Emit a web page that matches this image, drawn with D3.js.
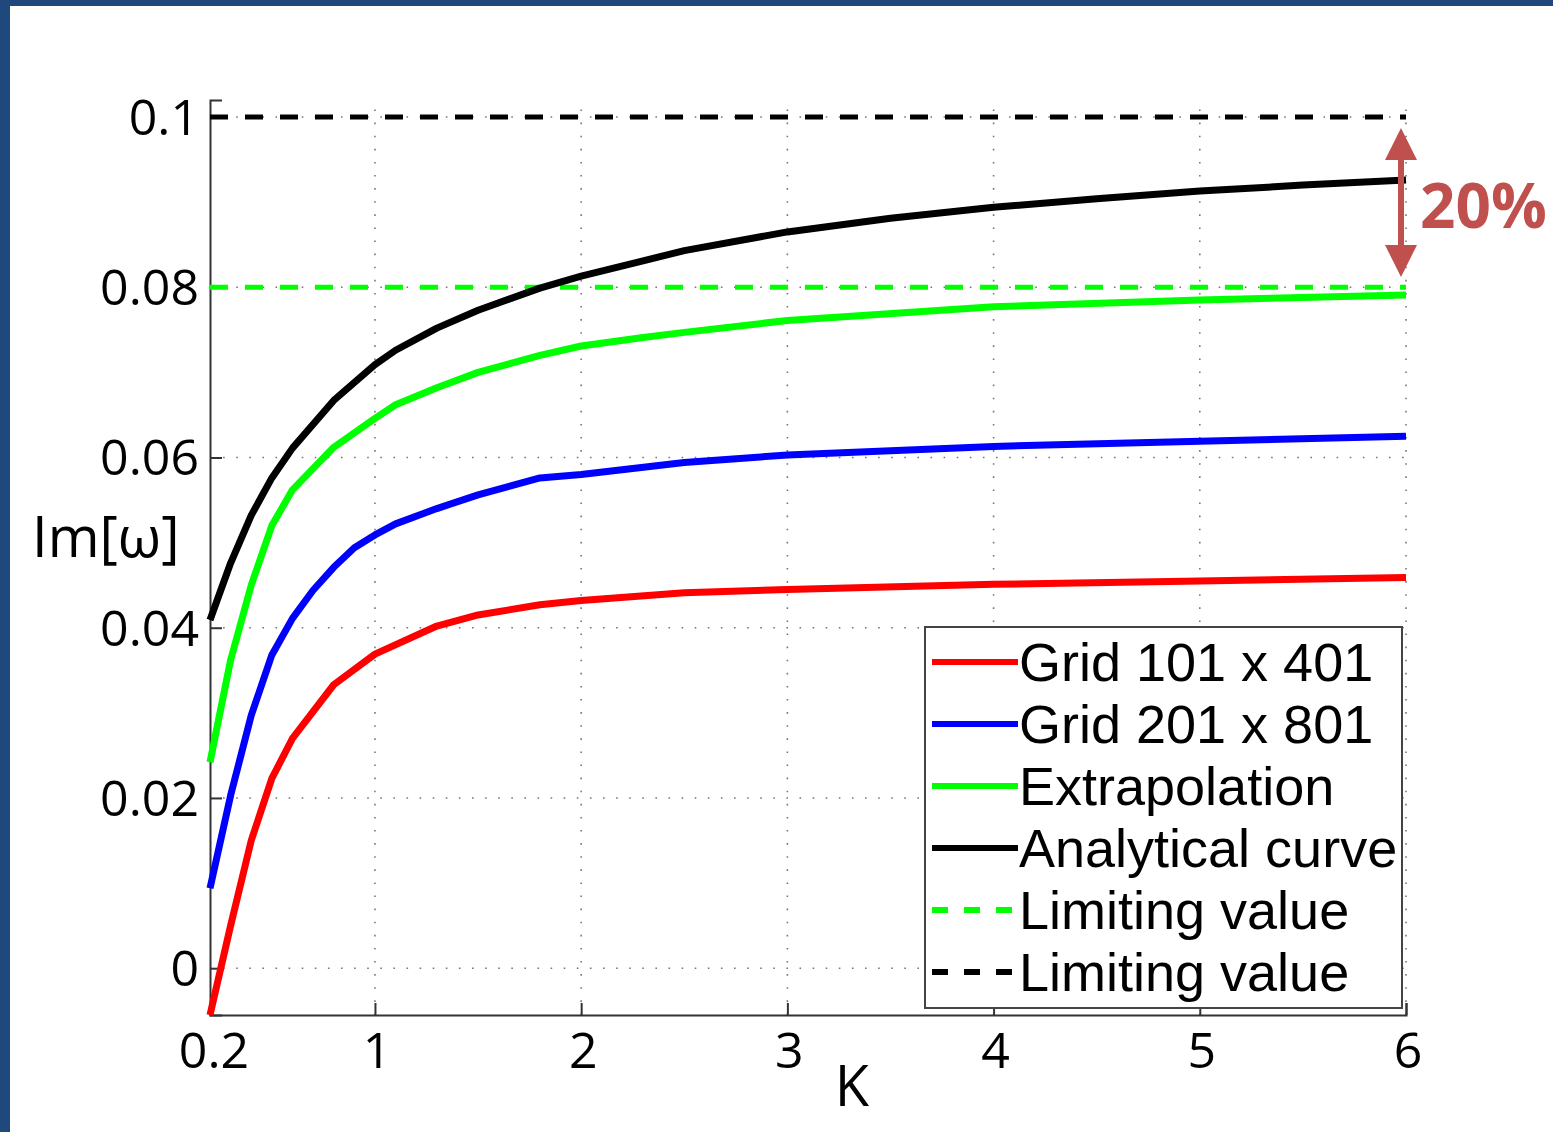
<!DOCTYPE html>
<html>
<head>
<meta charset="utf-8">
<script src="https://cdn.jsdelivr.net/npm/d3@7"></script>
<style>
  body { margin: 0; background: #fff; }
  svg { display: block; }
  text { font-family: "Open Sans", "Noto Sans", sans-serif; }
</style>
</head>
<body>
<svg id="chart"></svg>
<script>
var width = 1553,
    height = 1132;

// K values and curves
var kRed = [0.2, 0.3, 0.4, 0.5, 0.6, 0.8, 1.0, 1.3, 1.5, 1.8, 2.0, 2.5, 3.0, 4.0, 5.0, 6.0];
var grid101 = [-0.0055, 0.005, 0.015, 0.0223, 0.027, 0.0333, 0.0369, 0.0402, 0.0415, 0.0427, 0.0432, 0.0441, 0.0445, 0.0451, 0.0455, 0.0459];

var kFine = [0.2, 0.3, 0.4, 0.5, 0.6, 0.7, 0.8, 0.9, 1.0, 1.1, 1.3, 1.5, 1.8, 2.0, 2.5, 3.0, 4.0, 5.0, 6.0];
var grid201 = [0.0094, 0.0203, 0.0297, 0.0368, 0.0411, 0.0444, 0.0471, 0.0494, 0.0509, 0.0522, 0.054, 0.0556, 0.0576, 0.058, 0.0594, 0.0603, 0.0613, 0.0619, 0.0625];

var kGreen = [0.2, 0.3, 0.4, 0.5, 0.6, 0.8, 1.0, 1.1, 1.3, 1.5, 1.8, 2.0, 2.3, 2.5, 3.0, 4.0, 5.0, 6.0];
var extrap = [0.0242, 0.0362, 0.045, 0.052, 0.0562, 0.0612, 0.0646, 0.0662, 0.0682, 0.070, 0.072, 0.0731, 0.0741, 0.0747, 0.0761, 0.0777, 0.0785, 0.0791];

var kBlack = [0.2, 0.3, 0.4, 0.5, 0.6, 0.8, 1.0, 1.1, 1.3, 1.5, 1.8, 2.0, 2.3, 2.5, 3.0, 3.5, 4.0, 4.5, 5.0, 5.5, 6.0];
var analytical = [0.0409, 0.0476, 0.0532, 0.0576, 0.0611, 0.0667, 0.0709, 0.0726, 0.0752, 0.0773, 0.0799, 0.0813, 0.0831, 0.0843, 0.0865, 0.0881, 0.0894, 0.0904, 0.0913, 0.092, 0.0926];

var limitGreen = 0.08,
    limitBlack = 0.1;

var xTicks = [0.2, 1, 2, 3, 4, 5, 6];
var xTickLabels = ['0.2', '1', '2', '3', '4', '5', '6'];
var yTicks = [0, 0.02, 0.04, 0.06, 0.08, 0.1];
var yTickLabels = ['0', '0.02', '0.04', '0.06', '0.08', '0.1'];

var legendNames = ['Grid 101 x 401', 'Grid 201 x 801', 'Extrapolation', 'Analytical curve', 'Limiting value', 'Limiting value'];
var legendColors = ['#ff0000', '#0000ff', '#00ff00', '#000000', '#00ff00', '#000000'];
var legendDashed = [false, false, false, false, true, true];

var svg = d3.select('#chart')
    .attr('width', width)
    .attr('height', height);

// blue frame of the slide
svg.append('rect').attr('x', 0).attr('y', 0).attr('width', width).attr('height', 6).attr('fill', '#1f497d');
svg.append('rect').attr('x', 0).attr('y', 0).attr('width', 10).attr('height', height).attr('fill', '#1f497d');

var x = d3.scaleLinear().domain([0.2, 6]).range([210, 1406]);
var y = d3.scaleLinear().domain([-0.0055, 0.102]).range([1015, 100]);

// dotted grid
svg.append('g').selectAll('line.gx')
  .data([1, 2, 3, 4, 5, 6]).enter().append('line')
  .attr('x1', function(d) { return x(d); })
  .attr('x2', function(d) { return x(d); })
  .attr('y1', y.range()[0])
  .attr('y2', y.range()[1])
  .attr('stroke', '#777')
  .attr('stroke-width', 1.6)
  .attr('stroke-dasharray', '1.6,11.5');

svg.append('g').selectAll('line.gy')
  .data(yTicks).enter().append('line')
  .attr('x1', x.range()[0])
  .attr('x2', x.range()[1])
  .attr('y1', function(d) { return y(d); })
  .attr('y2', function(d) { return y(d); })
  .attr('stroke', '#777')
  .attr('stroke-width', 1.6)
  .attr('stroke-dasharray', '1.6,11.5');

// axes, ticks inward
var xAxis = d3.axisBottom(x).tickValues(xTicks).tickSize(-12).tickFormat('');
var yAxis = d3.axisLeft(y).tickValues(yTicks).tickSize(-12).tickFormat('');

svg.append('g')
  .attr('transform', 'translate(0,' + y.range()[0] + ')')
  .call(xAxis)
  .call(function(g) {
    g.select('.domain').attr('stroke', '#333').attr('stroke-width', 2);
    g.selectAll('.tick line').attr('stroke', '#333').attr('stroke-width', 2);
  });

svg.append('g')
  .attr('transform', 'translate(' + x.range()[0] + ',0)')
  .call(yAxis)
  .call(function(g) {
    g.select('.domain').attr('stroke', '#333').attr('stroke-width', 2);
    g.selectAll('.tick line').attr('stroke', '#333').attr('stroke-width', 2);
  });

// tick labels
svg.append('g').selectAll('text')
  .data(xTicks).enter().append('text')
  .text(function(d, i) { return xTickLabels[i]; })
  .attr('x', function(d) { return x(d) + (d === 0.2 ? 4 : 2); })
  .attr('y', 1068)
  .attr('font-size', 50)
  .attr('fill', '#000')
  .style('text-anchor', 'middle');

svg.append('g').selectAll('text')
  .data(yTicks).enter().append('text')
  .text(function(d, i) { return yTickLabels[i]; })
  .attr('x', 199)
  .attr('y', function(d) { return y(d) + 18; })
  .attr('font-size', 50)
  .attr('fill', '#000')
  .style('text-anchor', 'end');

// axis titles
svg.append('text')
  .text('Im[ω]')
  .attr('x', 32)
  .attr('y', 557)
  .attr('font-size', 56)
  .attr('fill', '#000');

svg.append('text')
  .text('K')
  .attr('x', 852)
  .attr('y', 1106)
  .attr('font-size', 56)
  .attr('fill', '#000')
  .style('text-anchor', 'middle');

// limiting values
var plotArea = svg.append('g');

plotArea.append('line')
  .attr('x1', x(0.2)).attr('x2', x(6))
  .attr('y1', y(limitGreen)).attr('y2', y(limitGreen))
  .attr('stroke', '#00ff00').attr('stroke-width', 5)
  .attr('stroke-dasharray', '18,17');

plotArea.append('line')
  .attr('x1', x(0.2)).attr('x2', x(6))
  .attr('y1', y(limitBlack)).attr('y2', y(limitBlack))
  .attr('stroke', '#000').attr('stroke-width', 5)
  .attr('stroke-dasharray', '18,17');

// curves
var line = d3.line()
  .x(function(d) { return x(d[0]); })
  .y(function(d) { return y(d[1]); });

var curves = [
  { k: kRed, v: grid101, color: '#ff0000' },
  { k: kFine, v: grid201, color: '#0000ff' },
  { k: kGreen, v: extrap, color: '#00ff00' },
  { k: kBlack, v: analytical, color: '#000000' }
];

curves.forEach(function(c) {
  plotArea.append('path')
    .datum(d3.zip(c.k, c.v))
    .attr('d', line)
    .attr('fill', 'none')
    .attr('stroke', c.color)
    .attr('stroke-width', 7)
    .attr('stroke-linejoin', 'round');
});

// legend
var legend = svg.append('g');
legend.append('rect')
  .attr('x', 925).attr('y', 627)
  .attr('width', 477).attr('height', 381)
  .attr('fill', '#fff')
  .attr('stroke', '#444')
  .attr('stroke-width', 2);

legendNames.forEach(function(name, i) {
  var cy = 662 + i * 62;
  legend.append('line')
    .attr('x1', 932).attr('x2', 1018)
    .attr('y1', cy).attr('y2', cy)
    .attr('stroke', legendColors[i])
    .attr('stroke-width', 6)
    .attr('stroke-dasharray', legendDashed[i] ? '16,16' : null);
  legend.append('text')
    .text(name)
    .attr('x', 1019)
    .attr('y', cy + 19)
    .attr('font-size', 54)
    .style('font-family', '"Liberation Sans", Arial, sans-serif')
    .attr('fill', '#000');
});

// 20% annotation
var arrowX = x(6) - 5;
var ann = svg.append('g');
ann.append('line')
  .attr('x1', arrowX).attr('x2', arrowX)
  .attr('y1', 150).attr('y2', 255)
  .attr('stroke', '#c0504d')
  .attr('stroke-width', 6);
ann.append('path')
  .attr('d', 'M' + arrowX + ',128 L' + (arrowX - 16) + ',160 L' + (arrowX + 16) + ',160 Z')
  .attr('fill', '#c0504d');
ann.append('path')
  .attr('d', 'M' + arrowX + ',277 L' + (arrowX - 16) + ',245 L' + (arrowX + 16) + ',245 Z')
  .attr('fill', '#c0504d');
ann.append('text')
  .text('20%')
  .attr('x', 1420)
  .attr('y', 228)
  .attr('font-size', 62)
  .attr('font-weight', 'bold')
  .attr('fill', '#c0504d');
</script>
</body>
</html>
